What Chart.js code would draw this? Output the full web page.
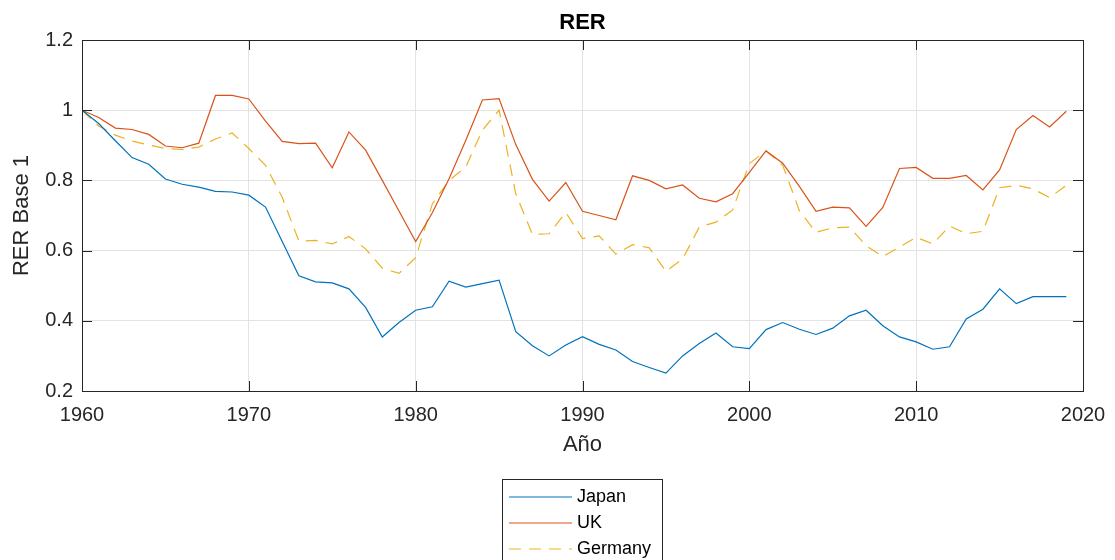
<!DOCTYPE html>
<html lang="es">

<head>
    <meta charset="UTF-8">
    <title>RER</title>
    <script src="https://cdn.jsdelivr.net/npm/chart.js@4.4.0/dist/chart.umd.min.js"></script>
    <style>
        body { margin: 0; background: #fff; }
    </style>
</head>

<body>
    <canvas id="chart" width="1115" height="560"></canvas>
</body>
<script>
    var years = [1960, 1961, 1962, 1963, 1964, 1965, 1966, 1967, 1968, 1969,
        1970, 1971, 1972, 1973, 1974, 1975, 1976, 1977, 1978, 1979,
        1980, 1981, 1982, 1983, 1984, 1985, 1986, 1987, 1988, 1989,
        1990, 1991, 1992, 1993, 1994, 1995, 1996, 1997, 1998, 1999,
        2000, 2001, 2002, 2003, 2004, 2005, 2006, 2007, 2008, 2009,
        2010, 2011, 2012, 2013, 2014, 2015, 2016, 2017, 2018, 2019];

    var japan = [1.0, 0.962, 0.913, 0.865, 0.846, 0.804, 0.789, 0.781, 0.769, 0.767,
        0.758, 0.724, 0.626, 0.528, 0.511, 0.508, 0.491, 0.438, 0.354, 0.395,
        0.430, 0.440, 0.513, 0.496, 0.506, 0.516, 0.369, 0.329, 0.300, 0.331,
        0.355, 0.333, 0.317, 0.284, 0.267, 0.251, 0.300, 0.335, 0.365, 0.326,
        0.321, 0.375, 0.395, 0.376, 0.361, 0.379, 0.414, 0.430, 0.386, 0.354,
        0.340, 0.319, 0.326, 0.405, 0.433, 0.491, 0.449, 0.469, 0.469, 0.469];

    var uk = [1.0, 0.979, 0.949, 0.945, 0.931, 0.898, 0.893, 0.906, 1.042, 1.042,
        1.032, 0.969, 0.911, 0.905, 0.906, 0.836, 0.938, 0.886, 0.800, 0.713,
        0.626, 0.708, 0.805, 0.914, 1.029, 1.033, 0.902, 0.803, 0.741, 0.794,
        0.712, 0.700, 0.688, 0.813, 0.800, 0.776, 0.787, 0.749, 0.739, 0.762,
        0.823, 0.884, 0.849, 0.783, 0.712, 0.724, 0.722, 0.669, 0.723, 0.834,
        0.837, 0.806, 0.806, 0.814, 0.773, 0.830, 0.945, 0.985, 0.952, 0.997];

    var germany = [1.0, 0.955, 0.929, 0.912, 0.901, 0.891, 0.888, 0.895, 0.918, 0.935,
        0.891, 0.843, 0.752, 0.627, 0.629, 0.619, 0.640, 0.605, 0.550, 0.535,
        0.580, 0.733, 0.800, 0.838, 0.943, 1.0, 0.762, 0.646, 0.648, 0.709,
        0.634, 0.642, 0.590, 0.617, 0.608, 0.541, 0.576, 0.667, 0.681, 0.716,
        0.848, 0.884, 0.843, 0.714, 0.652, 0.665, 0.667, 0.614, 0.583, 0.610,
        0.638, 0.619, 0.670, 0.648, 0.655, 0.779, 0.786, 0.776, 0.751, 0.786];

    var xTicks = [1960, 1970, 1980, 1990, 2000, 2010, 2020];
    var yTicks = [0.2, 0.4, 0.6, 0.8, 1, 1.2];

    var axisColor = '#262626';
    var font = "'Liberation Sans', Arial, sans-serif";

    function points(vals) {
        return years.map(function (y, i) { return { x: y, y: vals[i] }; });
    }

    // box, inward ticks, titles and legend, drawn MATLAB style
    var frame = {
        id: 'frame',
        afterDraw: function (chart) {
            var ctx = chart.ctx;
            var a = chart.chartArea;
            var xs = chart.scales.x, ys = chart.scales.y;
            ctx.save();
            ctx.strokeStyle = axisColor;
            ctx.lineWidth = 1;
            ctx.strokeRect(a.left + 0.5, a.top + 0.5, a.right - a.left, a.bottom - a.top);
            ctx.beginPath();
            xTicks.forEach(function (t) {
                var px = Math.round(xs.getPixelForValue(t)) + 0.5;
                ctx.moveTo(px, a.bottom); ctx.lineTo(px, a.bottom - 10);
                ctx.moveTo(px, a.top); ctx.lineTo(px, a.top + 10);
            });
            yTicks.forEach(function (t) {
                var py = Math.round(ys.getPixelForValue(t)) + 0.5;
                ctx.moveTo(a.left, py); ctx.lineTo(a.left + 10, py);
                ctx.moveTo(a.right, py); ctx.lineTo(a.right - 10, py);
            });
            ctx.stroke();

            var cx = (a.left + a.right) / 2;
            ctx.fillStyle = '#000';
            ctx.textAlign = 'center';
            ctx.textBaseline = 'middle';
            ctx.font = 'bold 22px ' + font;
            ctx.fillText('RER', cx, 23);

            ctx.fillStyle = axisColor;
            ctx.font = '22px ' + font;
            ctx.fillText('Año', cx, 445);
            ctx.save();
            ctx.translate(22, (a.top + a.bottom) / 2);
            ctx.rotate(-Math.PI / 2);
            ctx.fillText('RER Base 1', 0, 0);
            ctx.restore();

            // legend
            ctx.strokeStyle = axisColor;
            ctx.strokeRect(502.5, 479.5, 160, 100);
            ctx.font = '18px ' + font;
            ctx.textAlign = 'left';
            chart.data.datasets.forEach(function (ds, i) {
                var ly = 497 + i * 26;
                ctx.beginPath();
                ctx.strokeStyle = ds.borderColor;
                ctx.lineWidth = ds.borderWidth;
                ctx.setLineDash(ds.borderDash || []);
                ctx.moveTo(509, ly); ctx.lineTo(572, ly);
                ctx.stroke();
                ctx.setLineDash([]);
                ctx.fillStyle = '#000';
                ctx.fillText(ds.label, 577, ly);
            });
            ctx.restore();
        }
    };

    var config = {
        type: 'line',
        data: {
            datasets: [{
                label: 'Japan',
                data: points(japan),
                borderColor: '#0072BD',
                borderWidth: 1.2,
                pointRadius: 0,
                fill: false
            }, {
                label: 'UK',
                data: points(uk),
                borderColor: '#D95319',
                borderWidth: 1.2,
                pointRadius: 0,
                fill: false
            }, {
                label: 'Germany',
                data: points(germany),
                borderColor: '#EDB120',
                borderWidth: 1.2,
                borderDash: [12, 8],
                pointRadius: 0,
                fill: false
            }]
        },
        options: {
            responsive: false,
            animation: false,
            layout: { padding: { left: 0, top: 40, right: 32, bottom: 0 } },
            plugins: {
                legend: { display: false },
                title: { display: false },
                tooltip: { enabled: false }
            },
            scales: {
                x: {
                    type: 'linear',
                    min: 1960,
                    max: 2020,
                    afterFit: function (s) {
                        s.height = 169;
                        s.paddingLeft = 0;
                        s.paddingRight = 0;
                    },
                    afterBuildTicks: function (s) { s.ticks = xTicks.map(function (v) { return { value: v }; }); },
                    grid: { color: '#e3e3e3', drawTicks: false },
                    border: { display: false },
                    ticks: {
                        autoSkip: false,
                        maxRotation: 0,
                        padding: 12,
                        color: axisColor,
                        font: { family: font, size: 20 },
                        callback: function (v) { return String(v); }
                    }
                },
                y: {
                    min: 0.2,
                    max: 1.2,
                    afterFit: function (s) { s.width = 82; },
                    afterBuildTicks: function (s) { s.ticks = yTicks.map(function (v) { return { value: v }; }); },
                    grid: { color: '#e3e3e3', drawTicks: false },
                    border: { display: false },
                    ticks: {
                        padding: 9,
                        color: axisColor,
                        font: { family: font, size: 20 },
                        callback: function (v) { return String(+v.toFixed(1)); }
                    }
                }
            }
        },
        plugins: [frame]
    };

    var chart = new Chart(document.getElementById('chart'), config);
</script>

</html>
